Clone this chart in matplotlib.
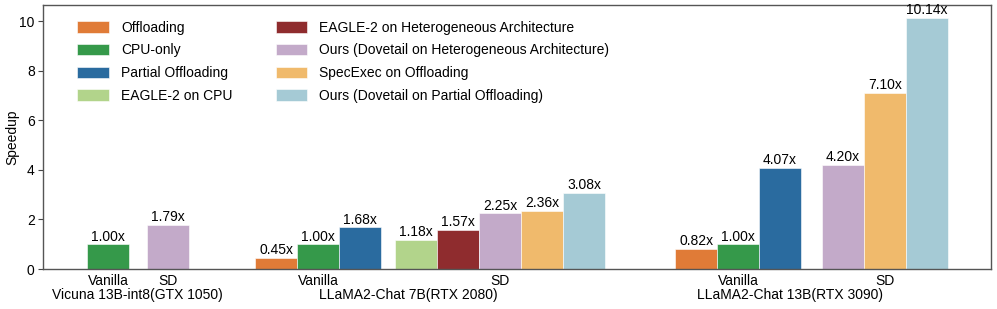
import numpy as np
import matplotlib.pyplot as plt
import matplotlib.patches as mpatches
from matplotlib.transforms import blended_transform_factory

plt.rcParams["font.family"] = ["Liberation Sans", "DejaVu Sans"]

# ---- data ----
methods = [
    "Offloading",
    "CPU-only",
    "Partial Offloading",
    "EAGLE-2 on CPU",
    "EAGLE-2 on Heterogeneous Architecture",
    "Ours (Dovetail on Heterogeneous Architecture)",
    "SpecExec on Offloading",
    "Ours (Dovetail on Partial Offloading)",
]
method_colors = ["#E07B37", "#35994A", "#2A6B9F", "#B2D48B",
                 "#8F2C2E", "#C3AAC9", "#F0BA6C", "#A5CAD5"]

models = ["Vicuna 13B-int8(GTX 1050)", "LLaMA2-Chat 7B(RTX 2080)", "LLaMA2-Chat 13B(RTX 3090)"]
subgroups = ["Vanilla", "SD"]

vanilla_methods = [
    ["CPU-only"],
    ["Offloading", "CPU-only", "Partial Offloading"],
    ["Offloading", "CPU-only", "Partial Offloading"],
]
vanilla_values = [
    [1.00],
    [0.45, 1.00, 1.68],
    [0.82, 1.00, 4.07],
]
sd_methods = [
    ["Ours (Dovetail on Heterogeneous Architecture)"],
    ["EAGLE-2 on CPU", "EAGLE-2 on Heterogeneous Architecture",
     "Ours (Dovetail on Heterogeneous Architecture)", "SpecExec on Offloading",
     "Ours (Dovetail on Partial Offloading)"],
    ["Ours (Dovetail on Heterogeneous Architecture)", "SpecExec on Offloading",
     "Ours (Dovetail on Partial Offloading)"],
]
sd_values = [
    [1.79],
    [1.18, 1.57, 2.25, 2.36, 3.08],
    [4.20, 7.10, 10.14],
]

# ---- layout (in bar-width units) ----
bar_w = 1.0
vanilla_centers = [1.55, 6.55, 16.55]
sd_centers = [2.98, 10.88, 20.05]
model_label_x = [2.24, 8.69, 17.79]

color_of = dict(zip(methods, method_colors))

fig = plt.figure(figsize=(9.97, 3.09), dpi=100)
ax = fig.add_axes([0.0431, 0.1294, 0.9508, 0.8544])

def draw_cluster(center, names, vals):
    n = len(names)
    xs = center + (np.arange(n) - (n - 1) / 2) * bar_w
    bars = ax.bar(xs, vals, width=bar_w, color=[color_of[m] for m in names],
                  edgecolor="white", linewidth=0.4)
    ax.bar_label(bars, labels=[f"{v:.2f}x" for v in vals], padding=0.5, fontsize=10)

for g in range(len(models)):
    draw_cluster(vanilla_centers[g], vanilla_methods[g], vanilla_values[g])
    draw_cluster(sd_centers[g], sd_methods[g], sd_values[g])

ax.set_xlim(0, 22.57)
ax.set_ylim(0, 10.65)
ax.set_yticks([0, 2, 4, 6, 8, 10])
ax.tick_params(axis="y", labelsize=10, length=3.5, width=0.8, pad=2.5,
               colors="#444444", labelcolor="black")
ax.set_xticks([])
ax.set_ylabel("Speedup", fontsize=10, labelpad=0)

for sp in ax.spines.values():
    sp.set_color("#555555")
    sp.set_linewidth(1.0)

trans = blended_transform_factory(ax.transData, ax.transAxes)
for g in range(len(models)):
    ax.text(vanilla_centers[g], -0.045, subgroups[0], transform=trans,
            ha="center", va="center", fontsize=10)
    ax.text(sd_centers[g], -0.045, subgroups[1], transform=trans,
            ha="center", va="center", fontsize=10)
    ax.text(model_label_x[g], -0.098, models[g], transform=trans,
            ha="center", va="center", fontsize=10)

handles = [mpatches.Patch(facecolor=c, edgecolor="white", linewidth=0.4, label=m)
           for m, c in zip(methods, method_colors)]
ax.legend(handles=handles, ncol=2, loc="upper left", bbox_to_anchor=(0.036, 0.94),
          frameon=False, fontsize=10, handlelength=2.3, handleheight=0.9,
          labelspacing=0.62, columnspacing=3.1, handletextpad=0.86, borderpad=0,
          borderaxespad=0)

fig.savefig("out.png", dpi=100)
